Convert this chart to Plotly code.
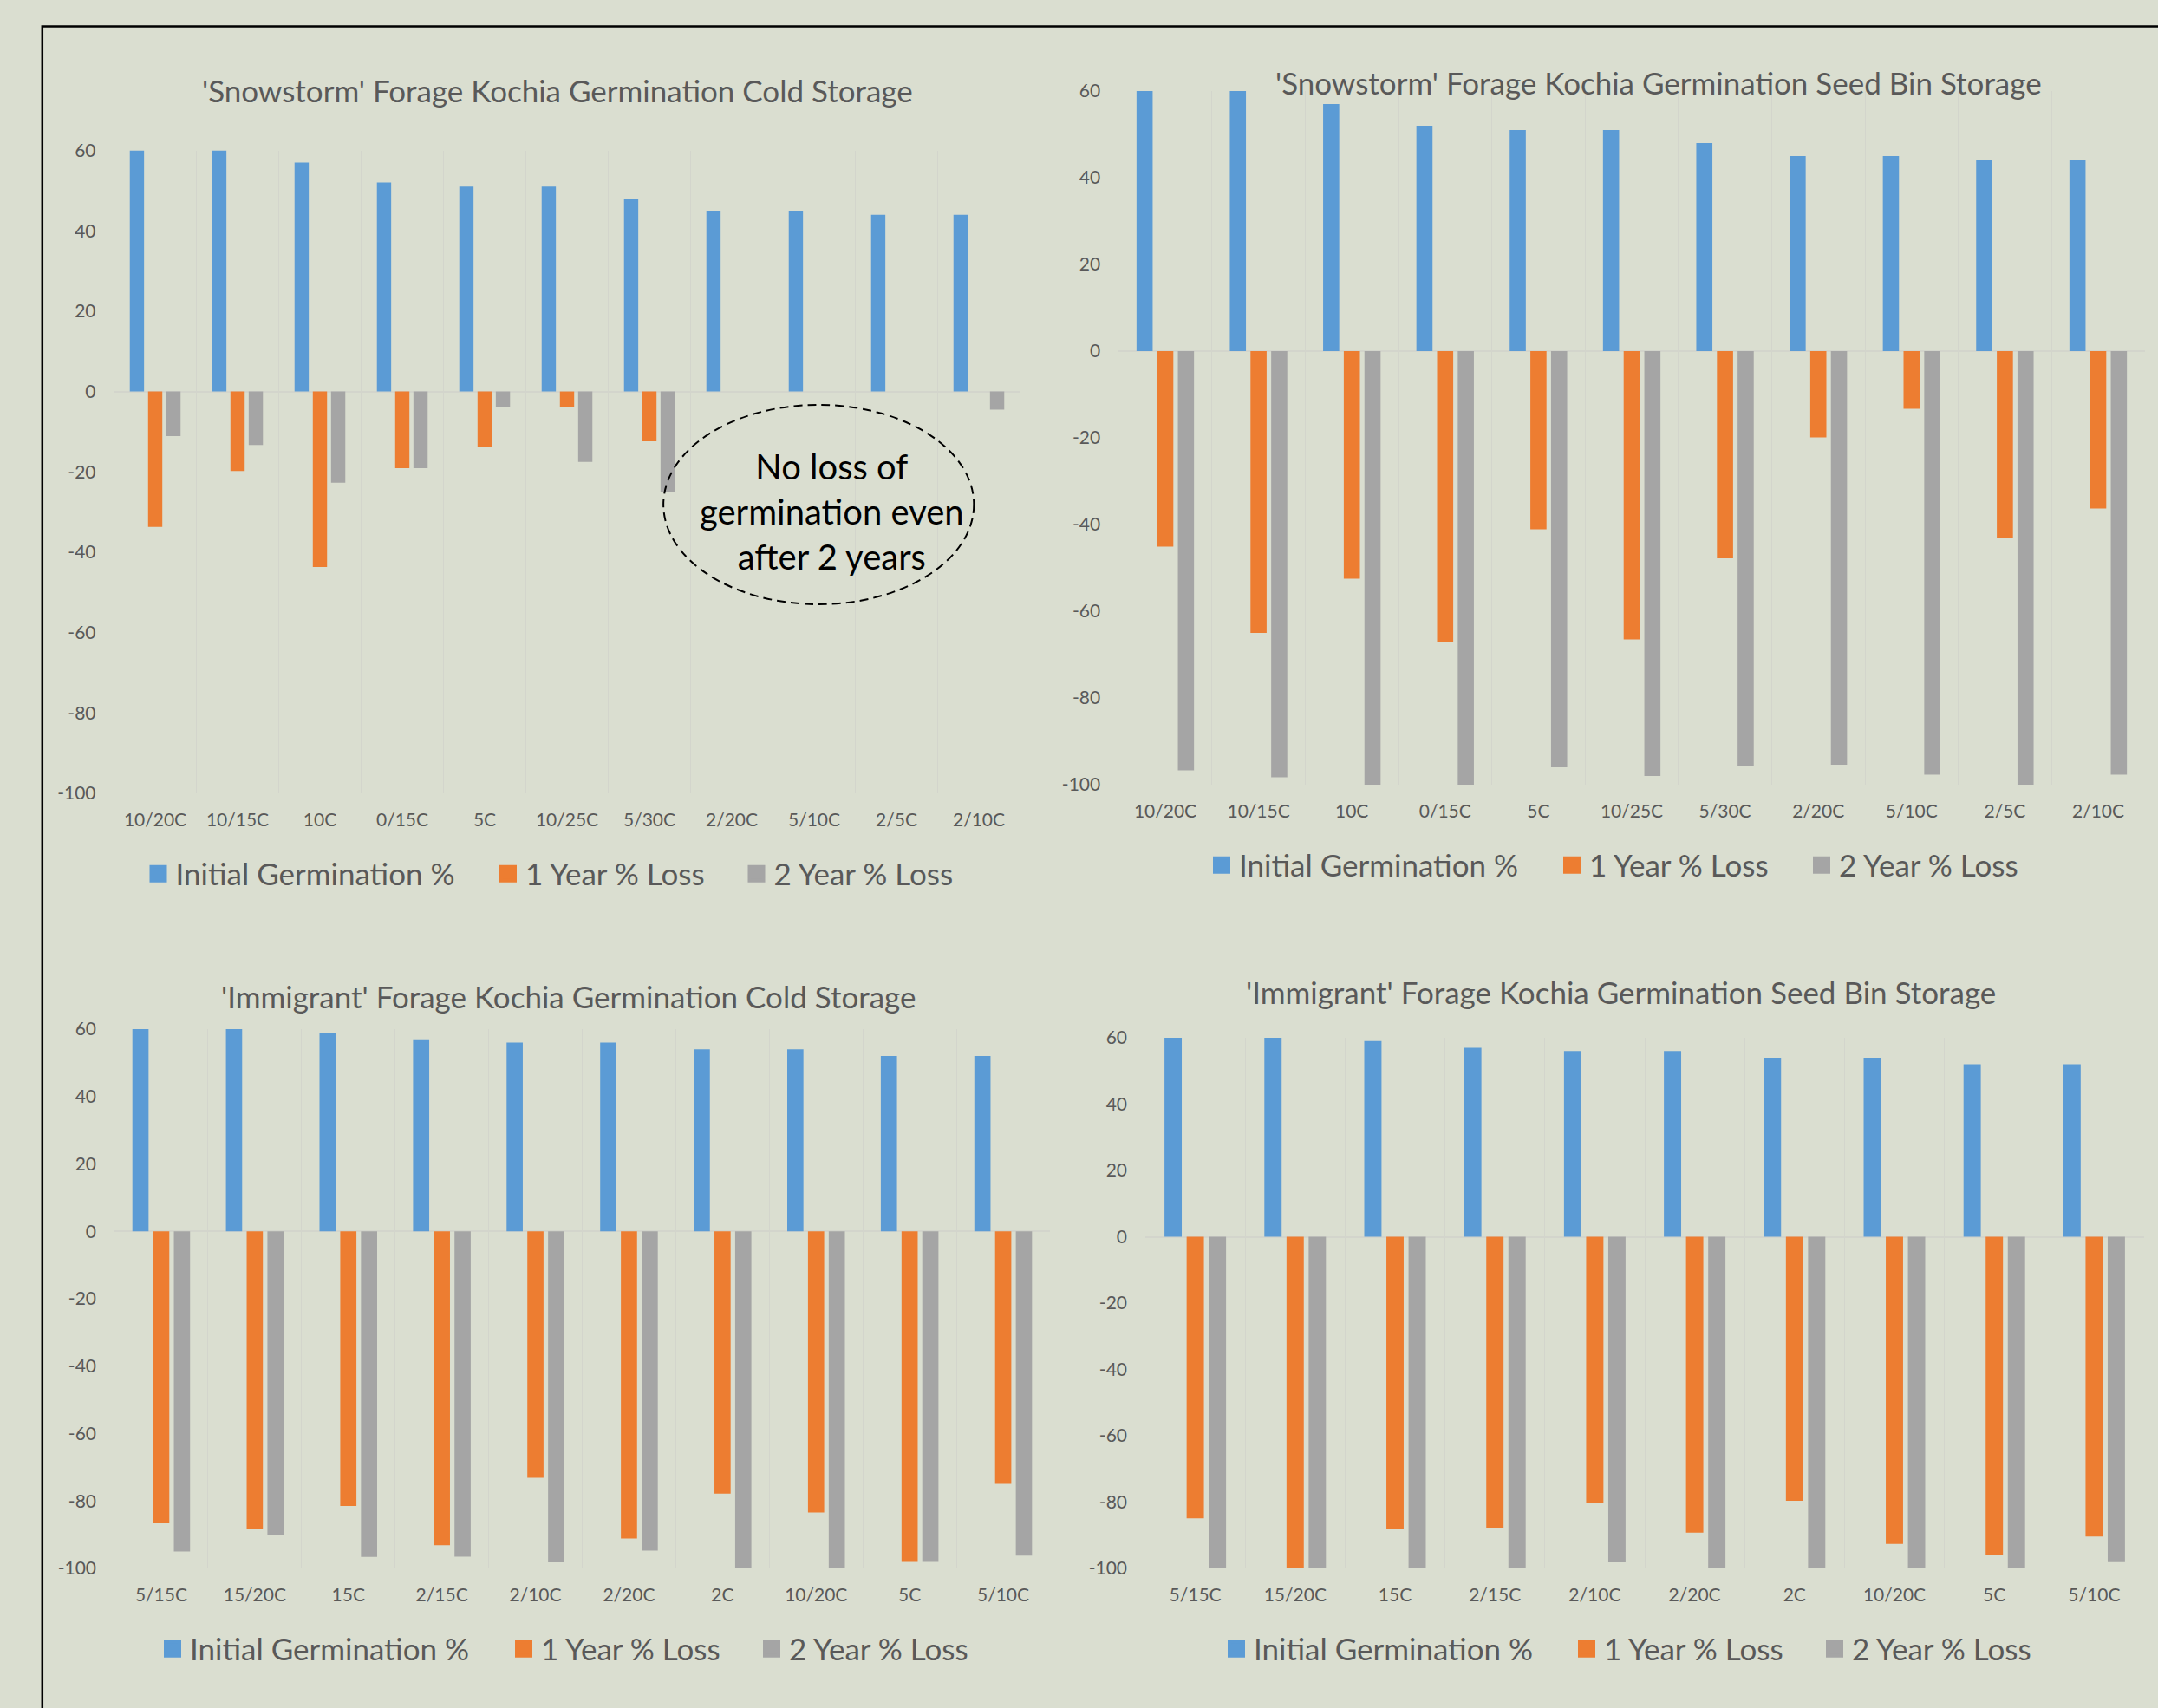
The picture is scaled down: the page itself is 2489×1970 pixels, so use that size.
import plotly.graph_objects as go

W, H = 2489, 1970
BG = "#DADED0"
GRID = "#D3D5CC"
TXT = "#595959"
FONT = "Lato"

SERIES = ["Initial Germination %", "1 Year % Loss", "2 Year % Loss"]
COLORS = ["#5B9BD5", "#ED7D31", "#A5A5A5"]

# ---- data ----
snow_cats = ["10/20C", "10/15C", "10C", "0/15C", "5C", "10/25C", "5/30C", "2/20C", "5/10C", "2/5C", "2/10C"]
snow_cold_initial = [60, 60, 57, 52, 51, 51, 48, 45, 45, 44, 44]
snow_cold_loss1 = [-33.7, -19.8, -43.7, -19.1, -13.7, -3.9, -12.4, 0, 0, 0, 0]
snow_cold_loss2 = [-11.1, -13.3, -22.7, -19.1, -3.9, -17.5, -24.9, 0, 0, 0, -4.5]

snow_bin_initial = [60, 60, 57, 52, 51, 51, 48, 45, 45, 44, 44]
snow_bin_loss1 = [-45.1, -65.0, -52.5, -67.2, -41.1, -66.5, -47.8, -19.9, -13.3, -43.1, -36.3]
snow_bin_loss2 = [-96.7, -98.3, -100, -100, -96.0, -98.0, -95.7, -95.4, -97.7, -100, -97.7]

imm_cats = ["5/15C", "15/20C", "15C", "2/15C", "2/10C", "2/20C", "2C", "10/20C", "5C", "5/10C"]
imm_cold_initial = [60, 60, 59, 57, 56, 56, 54, 54, 52, 52]
imm_cold_loss1 = [-86.6, -88.3, -81.5, -93.1, -73.1, -91.1, -77.8, -83.4, -98.1, -74.9]
imm_cold_loss2 = [-95.0, -90.1, -96.6, -96.5, -98.2, -94.7, -100, -100, -98.1, -96.2]

imm_bin_initial = [60, 60, 59, 57, 56, 56, 54, 54, 52, 52]
imm_bin_loss1 = [-84.9, -100, -88.1, -87.7, -80.3, -89.2, -79.6, -92.6, -96.1, -90.4]
imm_bin_loss2 = [-100, -100, -100, -100, -98.2, -100, -100, -100, -100, -98.1]

y_tick_vals = [60, 40, 20, 0, -20, -40, -60, -80, -100]
y_tick_text = ["60", "40", "20", "0", "-20", "-40", "-60", "-80", "-100"]

titles = [
    "'Snowstorm' Forage Kochia Germination Cold Storage",
    "'Snowstorm' Forage Kochia Germination Seed Bin Storage",
    "'Immigrant' Forage Kochia Germination Cold Storage",
    "'Immigrant' Forage Kochia Germination Seed Bin Storage",
]

panels = [
    (snow_cats, [snow_cold_initial, snow_cold_loss1, snow_cold_loss2]),
    (snow_cats, [snow_bin_initial, snow_bin_loss1, snow_bin_loss2]),
    (imm_cats, [imm_cold_initial, imm_cold_loss1, imm_cold_loss2]),
    (imm_cats, [imm_bin_initial, imm_bin_loss1, imm_bin_loss2]),
]

# layout geometry (pixels)
plot_px = [  # x0, x1, ytop(60), ybottom(-100)
    (131.5, 1176.5, 173.5, 915),
    (1290.2, 2473.8, 105, 905),
    (132, 1211, 1187, 1809),
    (1321, 2473, 1197, 1809),
]
title_px = [(643, 104), (1913, 95), (655, 1149), (1870, 1144)]
# legend swatch centres (x per series) and row centre y
legend_px = [
    ((182.5, 586, 872.5), 1008),
    ((1409, 1813, 2101), 998),
    ((199, 604, 890), 1902),
    ((1426, 1830, 2116), 1902),
]

fig = go.Figure()
layout = dict(
    width=W, height=H,
    margin=dict(l=0, r=0, t=0, b=0, autoexpand=False),
    paper_bgcolor=BG, plot_bgcolor=BG,
    bargap=0.335, bargroupgap=0.22, barmode="group",
    font=dict(family=FONT, color=TXT),
    annotations=[], shapes=[],
)

for i, ((cats, vals), (x0, x1, yt, yb)) in enumerate(zip(panels, plot_px)):
    n = "" if i == 0 else str(i + 1)
    xs, ly = legend_px[i]
    for s, (name, col, v) in enumerate(zip(SERIES, COLORS, vals)):
        k = i * 3 + s
        leg = "legend" if k == 0 else "legend%d" % (k + 1)
        fig.add_trace(go.Bar(
            x=cats, y=v, name=name, marker=dict(color=col, line=dict(width=0)),
            xaxis="x" + n, yaxis="y" + n, legendgroup="g%d_%d" % (i, s),
            showlegend=False,
        ))
        # legend-only entry with a larger square swatch
        fig.add_trace(go.Scatter(
            x=[None], y=[None], mode="markers", name=name,
            marker=dict(symbol="square", size=16, color=col,
                        line=dict(color=col, width=4)),
            xaxis="x" + n, yaxis="y" + n, legend=leg,
            legendgroup="g%d_%d" % (i, s), showlegend=True, hoverinfo="skip",
        ))
        layout[leg] = dict(
            orientation="h", x=(xs[s] - 20) / W, xanchor="left",
            y=1 - ly / H, yanchor="middle", itemsizing="trace",
            font=dict(family=FONT, size=35, color=TXT), bgcolor="rgba(0,0,0,0)",
        )
    layout["xaxis" + n] = dict(
        domain=[x0 / W, x1 / W], anchor="y" + n, type="category",
        tickson="boundaries", showgrid=True, gridcolor=GRID, gridwidth=1.2,
        ticks="", showline=False, zeroline=False,
        tickfont=dict(family=FONT, size=21, color=TXT), ticklabelstandoff=16,
    )
    layout["yaxis" + n] = dict(
        domain=[1 - yb / H, 1 - yt / H], anchor="x" + n, range=[-100, 60],
        tickmode="array", tickvals=y_tick_vals, ticktext=y_tick_text,
        showgrid=False, zeroline=True, zerolinecolor=GRID,
        zerolinewidth=1.5, ticks="", showline=False,
        tickfont=dict(family=FONT, size=21, color=TXT), ticklabelstandoff=20,
    )
    tx, ty = title_px[i]
    layout["annotations"].append(dict(
        text=titles[i], x=tx / W, y=1 - ty / H, xref="paper", yref="paper",
        xanchor="center", yanchor="middle", showarrow=False,
        font=dict(family=FONT, size=35, color=TXT),
    ))

# callout in first panel
layout["shapes"].append(dict(
    type="circle", xref="x", yref="y", x0=6.17, x1=9.94, y0=-52.96, y1=-3.32,
    line=dict(color="black", width=2, dash="10px,6px"), layer="above",
))
layout["annotations"].append(dict(
    text="No loss of<br>germination even<br>after 2 years", x=8.22, y=-29.9,
    xref="x", yref="y", xanchor="center", yanchor="middle", showarrow=False,
    font=dict(family=FONT, size=40, color="black"),
))

# outer frame
layout["shapes"].append(dict(
    type="rect", xref="paper", yref="paper", x0=48.8 / W, x1=1.3, y0=-0.3, y1=1 - 30.5 / H,
    line=dict(color="black", width=2.5), fillcolor="rgba(0,0,0,0)", layer="above",
))

fig.update_layout(**layout)
fig.write_html("out.html")
